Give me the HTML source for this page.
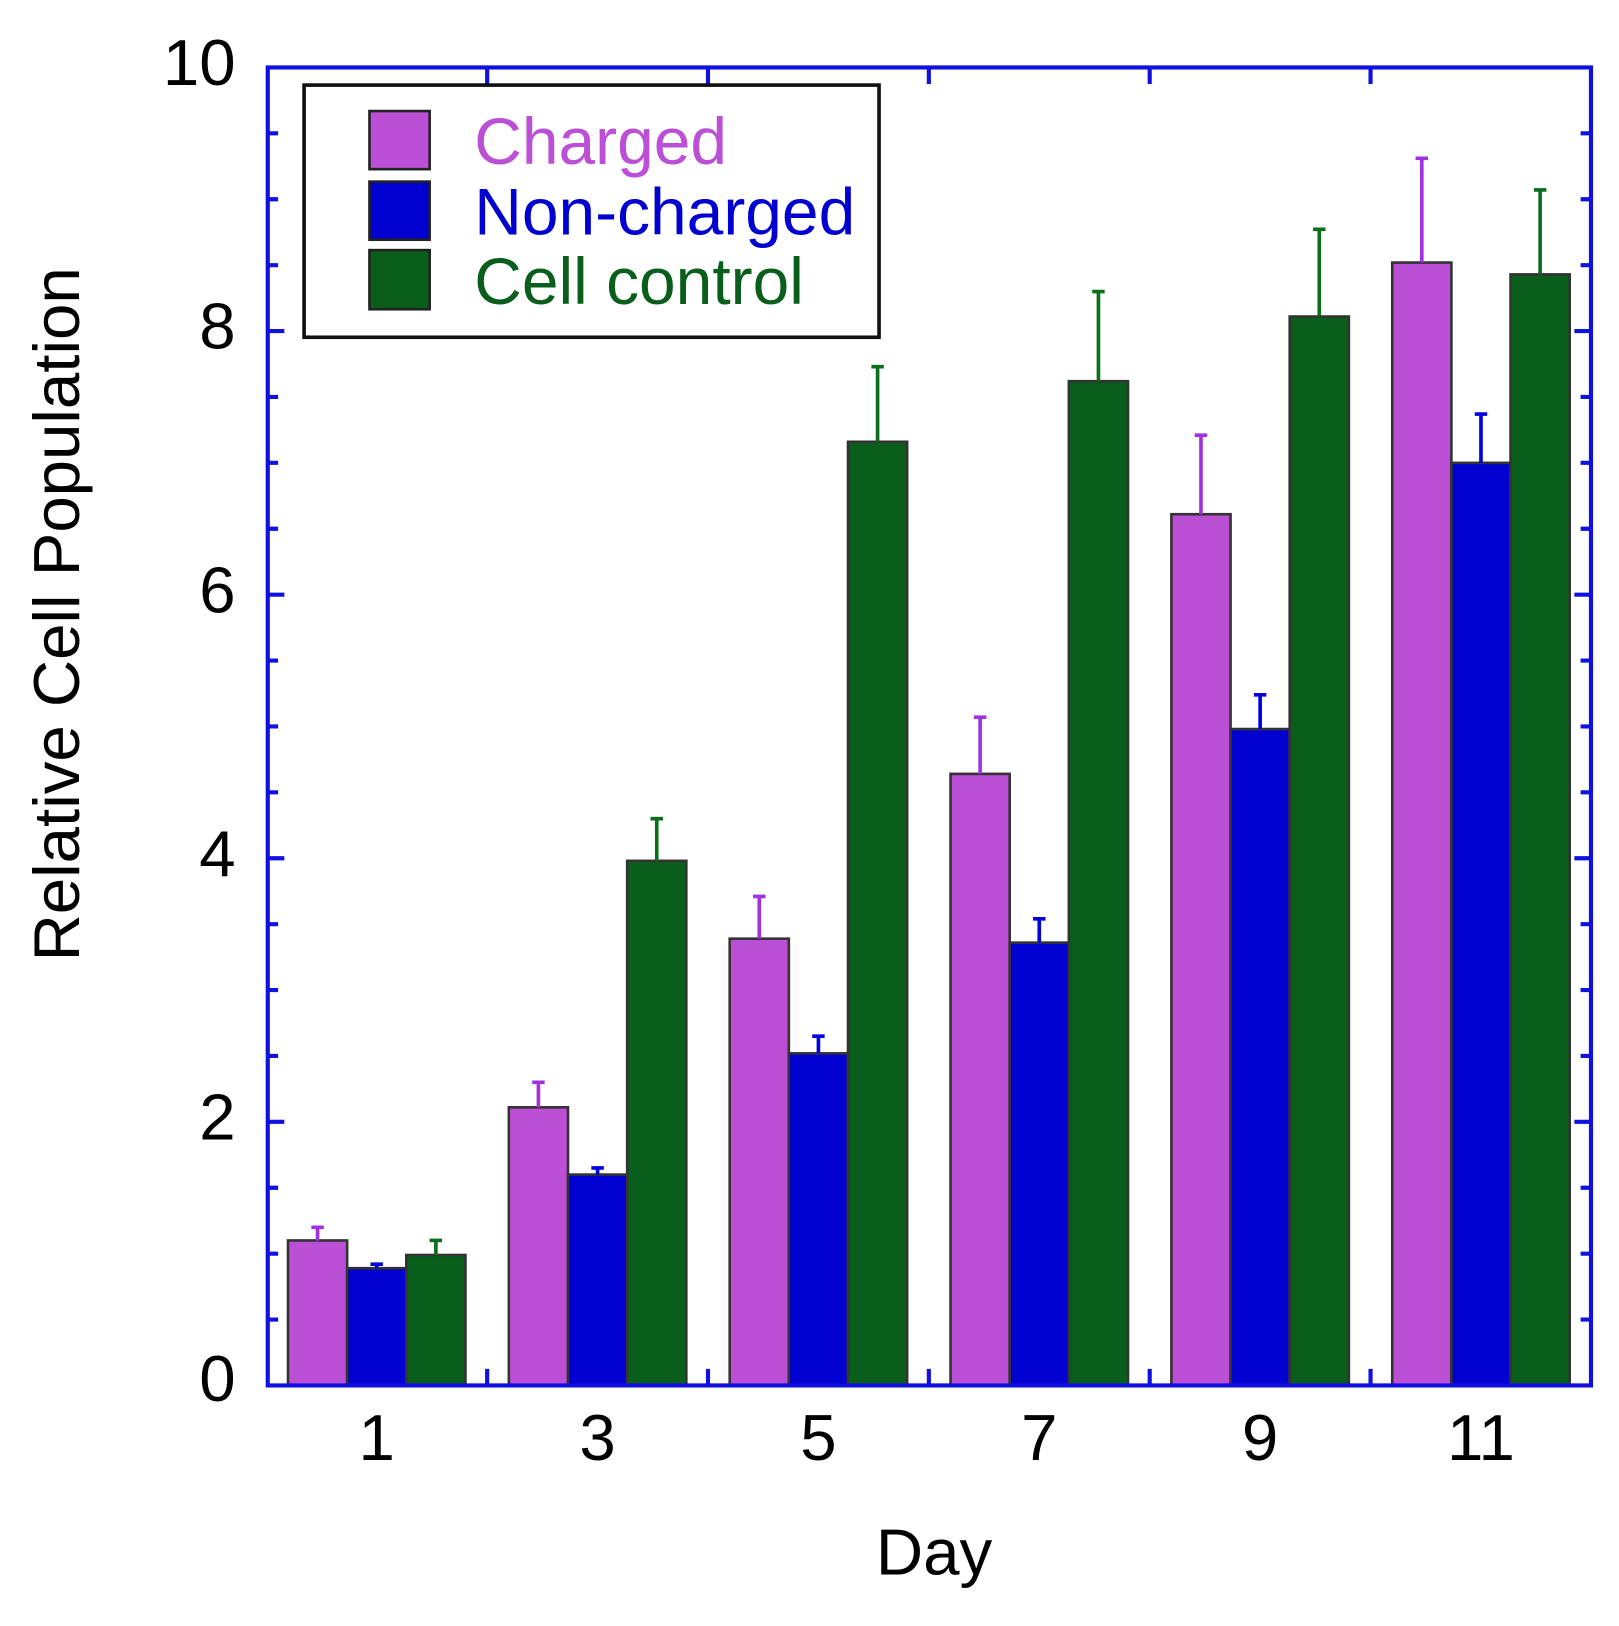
<!DOCTYPE html>
<html><head><style>html,body{margin:0;padding:0;background:#fff}svg{display:block}</style></head>
<body>
<svg width="1619" height="1626" viewBox="0 0 1560 1566.8" preserveAspectRatio="none" xmlns="http://www.w3.org/2000/svg" font-family="Liberation Sans, Arial, sans-serif">
<rect width="1560" height="1567" fill="#fff"/>
<g stroke="#333" stroke-width="2.5">
<rect x="277.5" y="1195.3" width="57" height="139.7" fill="#bb4fd6"/>
<rect x="334.5" y="1222" width="57" height="113" fill="#0000d0"/>
<rect x="391.5" y="1209.3" width="57" height="125.7" fill="#0a5e1c"/>
<rect x="490.3" y="1067" width="57" height="268" fill="#bb4fd6"/>
<rect x="547.3" y="1131.8" width="57" height="203.2" fill="#0000d0"/>
<rect x="604.3" y="829.5" width="57" height="505.5" fill="#0a5e1c"/>
<rect x="703.1" y="904.5" width="57" height="430.5" fill="#bb4fd6"/>
<rect x="760.1" y="1015" width="57" height="320" fill="#0000d0"/>
<rect x="817.1" y="425.7" width="57" height="909.3" fill="#0a5e1c"/>
<rect x="915.9" y="745.7" width="57" height="589.3" fill="#bb4fd6"/>
<rect x="972.9" y="908.3" width="57" height="426.7" fill="#0000d0"/>
<rect x="1029.9" y="367.3" width="57" height="967.7" fill="#0a5e1c"/>
<rect x="1128.7" y="495.5" width="57" height="839.5" fill="#bb4fd6"/>
<rect x="1185.7" y="702.5" width="57" height="632.5" fill="#0000d0"/>
<rect x="1242.7" y="305" width="57" height="1030" fill="#0a5e1c"/>
<rect x="1341.5" y="253" width="57" height="1082" fill="#bb4fd6"/>
<rect x="1398.5" y="446" width="57" height="889" fill="#0000d0"/>
<rect x="1455.5" y="264.4" width="57" height="1070.6" fill="#0a5e1c"/>
</g>
<g stroke-width="3.5" fill="none">
<g stroke="#a030e0">
<path d="M306 1195.3V1182.6M300 1182.6H312"/>
<path d="M518.8 1067V1042.9M512.8 1042.9H524.8"/>
<path d="M731.6 904.5V863.8M725.6 863.8H737.6"/>
<path d="M944.4 745.7V691.1M938.4 691.1H950.4"/>
<path d="M1157.2 495.5V419.3M1151.2 419.3H1163.2"/>
<path d="M1370 253V152.6M1364 152.6H1376"/>
</g>
<g stroke="#0000e0">
<path d="M363 1222V1218.2M357 1218.2H369"/>
<path d="M575.8 1131.8V1125.4M569.8 1125.4H581.8"/>
<path d="M788.6 1015V998.5M782.6 998.5H794.6"/>
<path d="M1001.4 908.3V885.4M995.4 885.4H1007.4"/>
<path d="M1214.2 702.5V669.5M1208.2 669.5H1220.2"/>
<path d="M1427 446V399M1421 399H1433"/>
</g>
<g stroke="#0a6e1c">
<path d="M420 1209.3V1195.3M414 1195.3H426"/>
<path d="M632.8 829.5V788.9M626.8 788.9H638.8"/>
<path d="M845.6 425.7V353.3M839.6 353.3H851.6"/>
<path d="M1058.4 367.3V280.9M1052.4 280.9H1064.4"/>
<path d="M1271.2 305V221M1265.2 221H1277.2"/>
<path d="M1484 264.4V183M1478 183H1490"/>
</g>
</g>
<g stroke="#1010e0" stroke-width="4" fill="none">
<rect x="258" y="65" width="1275" height="1270"/>
<path d="M258 1081H274M258 827H274M258 573H274M258 319H274M1533 1081H1517M1533 827H1517M1533 573H1517M1533 319H1517"/>
<path d="M258 1271.5H268M258 1208H268M258 1144.5H268M258 1017.5H268M258 954H268M258 890.5H268M258 763.5H268M258 700H268M258 636.5H268M258 509.5H268M258 446H268M258 382.5H268M258 255.5H268M258 192H268M258 128.5H268"/>
<path d="M1533 1271.5H1523M1533 1208H1523M1533 1144.5H1523M1533 1017.5H1523M1533 954H1523M1533 890.5H1523M1533 763.5H1523M1533 700H1523M1533 636.5H1523M1533 509.5H1523M1533 446H1523M1533 382.5H1523M1533 255.5H1523M1533 192H1523M1533 128.5H1523"/>
<path d="M469.4 65V81M682.2 65V81M895 65V81M1107.8 65V81M1320.6 65V81"/>
<path d="M469.4 1335V1319M682.2 1335V1319M895 1335V1319M1107.8 1335V1319M1320.6 1335V1319"/>
</g>
<rect x="293" y="82" width="554" height="243" fill="#fff" stroke="#111" stroke-width="3.5"/>
<g stroke="#222" stroke-width="2.5">
<rect x="356" y="107" width="58" height="56" fill="#bb4fd6"/>
<rect x="356" y="175" width="58" height="56" fill="#0000d0"/>
<rect x="356" y="241" width="58" height="57" fill="#0a5e1c"/>
</g>
<g font-size="63.5">
<text x="457" y="158" fill="#bb4fd6">Charged</text>
<text x="457" y="226" fill="#0000d0">Non-charged</text>
<text x="457" y="293" fill="#0a5e1c">Cell control</text>
</g>
<g font-size="63" fill="#000" text-anchor="end">
<text x="227" y="1350">0</text>
<text x="227" y="1098">2</text>
<text x="227" y="844">4</text>
<text x="227" y="590">6</text>
<text x="227" y="336">8</text>
<text x="227" y="82">10</text>
</g>
<g font-size="63" fill="#000" text-anchor="middle">
<text x="363" y="1407">1</text>
<text x="575.8" y="1407">3</text>
<text x="788.6" y="1407">5</text>
<text x="1001.4" y="1407">7</text>
<text x="1214.2" y="1407">9</text>
<text x="1427" y="1407">11</text>
<text x="900" y="1517">Day</text>
<text transform="translate(76 592) rotate(-90)">Relative Cell Population</text>
</g>
</svg>
</body></html>
